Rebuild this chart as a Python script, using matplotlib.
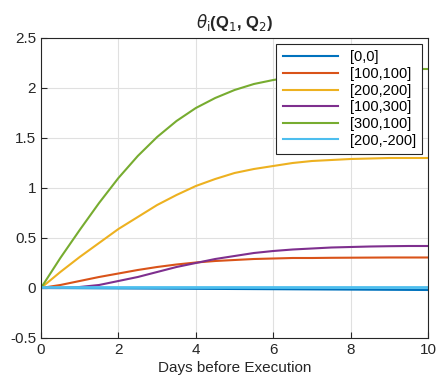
import matplotlib
matplotlib.use('Agg')
import matplotlib.pyplot as plt
import numpy as np

# days before execution, sampled every half day
days = np.arange(0, 10.5, 0.5)

labels = ['[0,0]', '[100,100]', '[200,200]', '[100,300]', '[300,100]', '[200,-200]']

theta_00 = [0, -0.001, -0.002, -0.003, -0.004, -0.005, -0.006, -0.007, -0.008, -0.009, -0.010,
            -0.011, -0.012, -0.013, -0.014, -0.015, -0.016, -0.017, -0.018, -0.019, -0.020]
theta_100_100 = [0, 0.03, 0.07, 0.11, 0.145, 0.18, 0.21, 0.235, 0.255, 0.27, 0.28,
                 0.29, 0.295, 0.3, 0.3, 0.302, 0.303, 0.304, 0.305, 0.305, 0.305]
theta_200_200 = [0, 0.16, 0.31, 0.45, 0.59, 0.71, 0.83, 0.93, 1.02, 1.09, 1.15,
                 1.19, 1.22, 1.25, 1.27, 1.28, 1.29, 1.295, 1.3, 1.3, 1.3]
theta_100_300 = [0, 0.0, 0.01, 0.03, 0.07, 0.11, 0.16, 0.21, 0.25, 0.29, 0.32,
                 0.35, 0.37, 0.385, 0.395, 0.405, 0.41, 0.415, 0.418, 0.42, 0.42]
theta_300_100 = [0, 0.3, 0.58, 0.85, 1.1, 1.32, 1.51, 1.67, 1.8, 1.9, 1.98,
                 2.04, 2.08, 2.11, 2.14, 2.16, 2.17, 2.18, 2.18, 2.19, 2.19]
theta_200_m200 = [0.012, 0.012, 0.012, 0.012, 0.012, 0.012, 0.012, 0.012, 0.012, 0.012, 0.012,
                  0.012, 0.012, 0.012, 0.012, 0.012, 0.012, 0.012, 0.012, 0.012, 0.012]

series = [theta_00, theta_100_100, theta_200_200, theta_100_300, theta_300_100, theta_200_m200]
colors = ['#0072BD', '#D95319', '#EDB120', '#7E2F8E', '#77AC30', '#4DBEEE']

plt.rcParams['font.family'] = ['Liberation Sans', 'DejaVu Sans']

fig = plt.figure(figsize=(4.36, 3.83), dpi=100)
ax = fig.add_axes([0.094, 0.1175, 0.888, 0.7833])

for y, lab, c in zip(series, labels, colors):
    lw = 2.0 if lab == '[200,-200]' else 1.5
    ax.plot(days, y, color=c, lw=lw, label=lab)

ax.set_xlim(0, 10)
ax.set_ylim(-0.5, 2.5)
ax.set_xticks([0, 2, 4, 6, 8, 10])
ax.set_yticks([-0.5, 0, 0.5, 1, 1.5, 2, 2.5])
ax.set_yticklabels(['-0.5', '0', '0.5', '1', '1.5', '2', '2.5'])
ax.grid(True, color='#e0e0e0', lw=0.8)
ax.tick_params(direction='in', labelsize=11, colors='#262626', length=4)
for s in ax.spines.values():
    s.set_color('#262626')
ax.set_xlabel('Days before Execution', fontsize=11, color='#262626', labelpad=3)
ax.set_title(r'$\theta_{\rm i}$(Q$_{\rm 1}$, Q$_{\rm 2}$)', fontsize=12, fontweight='bold',
             color='#262626', pad=7)

leg = ax.legend(loc='upper right', fontsize=10.5, frameon=True, fancybox=False,
                edgecolor='#262626', framealpha=1, borderaxespad=0.4,
                handlelength=3.8, labelspacing=0.18, borderpad=0.45)
leg.get_frame().set_linewidth(0.8)
for h in leg.get_lines():
    h.set_linewidth(1.5)

fig.savefig('out.png', dpi=100)
